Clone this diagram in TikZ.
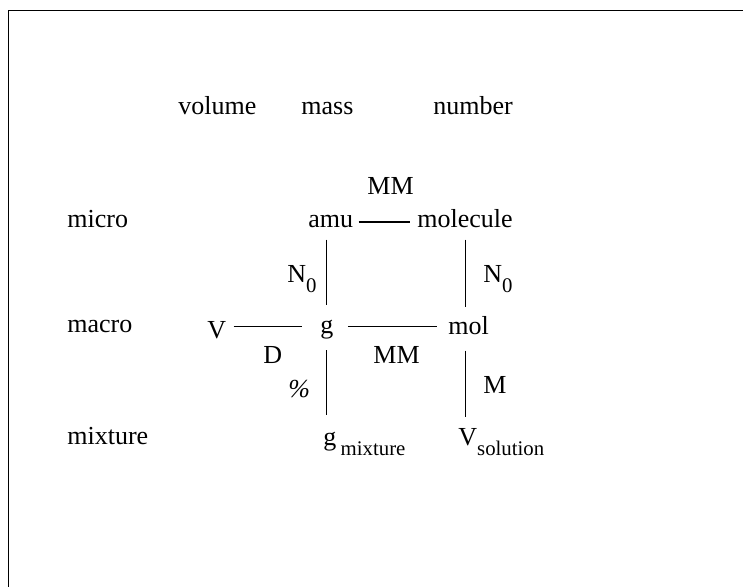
\documentclass[tikz,border=0pt]{standalone}
\usepackage{fontspec}
\setmainfont{Liberation Serif}
\newcommand{\txtsz}{\fontsize{13}{15}\selectfont}
\newcommand{\lowsub}[1]{\raisebox{-5pt}{\fontsize{10.4}{12}\selectfont #1}}
\begin{document}
\begin{tikzpicture}[x=0.5pt, y=-0.5pt,
    lbl/.style={anchor=base west, inner sep=0pt, font=\txtsz},
    link/.style={line width=0.55pt}]
  % page and frame
  \useasboundingbox (0,0) rectangle (743,587);
  \clip (0,0) rectangle (743,587);
  \draw[line width=0.9pt] (8.5,10.5) rectangle (800,650);

  % column headings
  \node[lbl] (volume) at (178,115) {volume};
  \node[lbl] (mass)   at (301,115) {mass};
  \node[lbl] (number) at (433,115) {number};

  % row headings
  \node[lbl] (micro)   at (67,228) {micro};
  \node[lbl] (macro)   at (67,333) {macro};
  \node[lbl] (mixture) at (67,444) {mixture};

  % units
  \node[lbl] (amu)      at (308,228) {amu};
  \node[lbl] (molecule) at (417,228) {molecule};
  \node[lbl] (V)        at (207,338) {V};
  \node[lbl] (g)        at (320,334) {g};
  \node[lbl] (mol)      at (448,335) {mol};
  \node[lbl] (gmix)     at (323,445) {g\,\lowsub{mixture}};
  \node[lbl] (vsol)     at (458,445) {V\lowsub{solution}};

  % factors
  \node[lbl] (mmtop)  at (367,195) {MM};
  \node[lbl] (nzeroL) at (287,283) {N\lowsub{0}};
  \node[lbl] (nzeroR) at (483,283) {N\lowsub{0}};
  \node[lbl] (dens)   at (263,363) {D};
  \node[lbl] (mmlow)  at (373,363) {MM};
  \node[lbl] (perc)   at (288,397) {\textit{\%}};
  \node[lbl] (molar)  at (483,393) {M};

  % connectors
  \draw[link, shorten <=2.5pt, shorten >=3.5pt] (amu.east) -- (molecule.west |- amu.east);
  \draw[link, shorten <=3.5pt, shorten >=9pt] (V.east |- mol.west) -- (g.west |- mol.west);
  \draw[link, shorten <=7pt, shorten >=5.5pt] (g.east |- mol.west) -- (mol.west);
  \draw[link, xshift=1pt, shorten <=5.5pt, shorten >=7.5pt] (g.north |- amu.south) -- (g.north);
  \draw[link, xshift=1pt, shorten <=5pt, shorten >=8pt] (g.south) -- (g.south |- gmix.north);
  \draw[link, xshift=-1pt, shorten <=5.5pt, shorten >=5pt] (molecule.south) -- (molecule.south |- mol.north);
  \draw[link, xshift=-1pt, shorten <=7.5pt, shorten >=5.5pt] (molecule.south |- mol.south) -- (molecule.south |- vsol.north);
\end{tikzpicture}
\end{document}
